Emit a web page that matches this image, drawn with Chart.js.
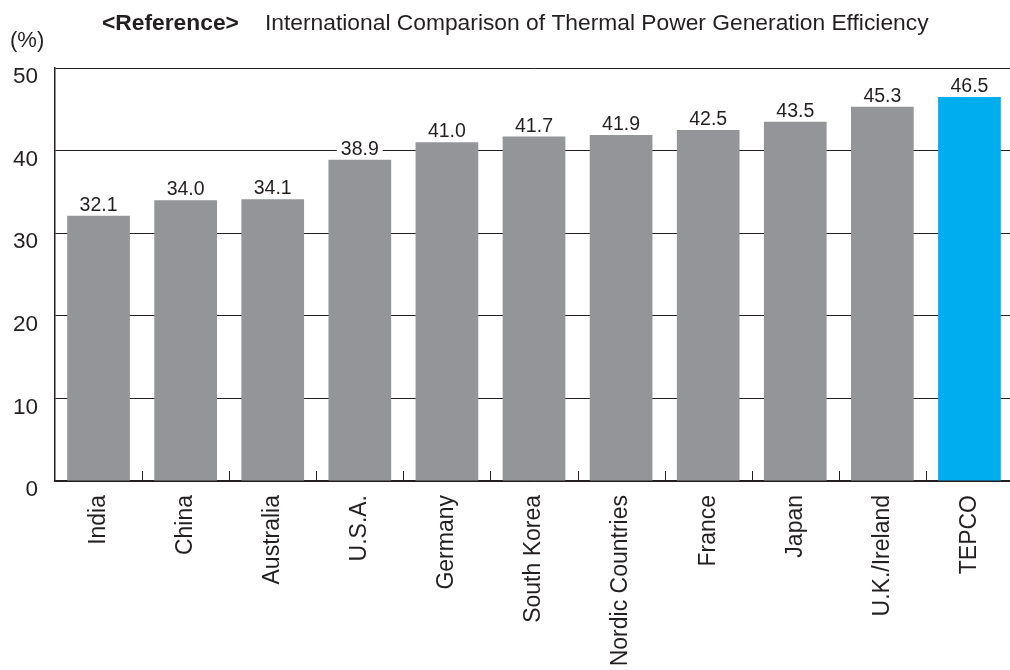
<!DOCTYPE html>
<html>
<head>
<meta charset="utf-8">
<script src="https://cdn.jsdelivr.net/npm/chart.js@4"></script>
<style>
  body { margin: 0; background: #fff; overflow: hidden; }
  #wrap { width: 1013px; height: 670px; position: relative; }
</style>
</head>
<body>
<div id="wrap"><canvas id="chart"></canvas></div>
<script>
// Datos del gráfico
const categories = ['India', 'China', 'Australia', 'U.S.A.', 'Germany', 'South Korea',
  'Nordic Countries', 'France', 'Japan', 'U.K./Ireland', 'TEPCO'];
const efficiency = [32.1, 34.0, 34.1, 38.9, 41.0, 41.7, 41.9, 42.5, 43.5, 45.3, 46.5];
const yTicks = [0, 10, 20, 30, 40, 50];
const titleTag = '<Reference>';
const titleText = 'International Comparison of Thermal Power Generation Efficiency';
const unitLabel = '(%)';

const FONT = "'Liberation Sans', Arial, Helvetica, sans-serif";
const INK = '#231f20';
const barColors = categories.map(c => c === 'TEPCO' ? '#00aeef' : '#939598');

// Título, etiquetas de valor y marcas del eje X
const extras = {
  id: 'extras',
  afterDraw(chart) {
    const ctx = chart.ctx;
    ctx.save();
    ctx.fillStyle = INK;
    ctx.textBaseline = 'alphabetic';
    ctx.textAlign = 'left';
    ctx.font = 'bold 22.8px ' + FONT;
    ctx.fillText(titleTag, 102, 30);
    ctx.font = '22.8px ' + FONT;
    ctx.fillText(titleText, 265, 30);
    ctx.font = '22px ' + FONT;
    ctx.fillText(unitLabel, 10, 47);
    ctx.restore();
  },
  afterDatasetsDraw(chart) {
    const ctx = chart.ctx;
    const meta = chart.getDatasetMeta(0);
    const xs = chart.scales.x;
    const area = chart.chartArea;
    ctx.save();
    // marcas entre categorías
    ctx.strokeStyle = INK;
    ctx.lineWidth = 1;
    for (let i = 1; i < categories.length; i++) {
      const x = Math.round((xs.getPixelForValue(i - 1) + xs.getPixelForValue(i)) / 2) + 0.5;
      ctx.beginPath();
      ctx.moveTo(x, area.bottom);
      ctx.lineTo(x, area.bottom - 10);
      ctx.stroke();
    }
    // etiquetas de valor
    ctx.font = '19.5px ' + FONT;
    ctx.textAlign = 'center';
    ctx.textBaseline = 'alphabetic';
    meta.data.forEach((bar, i) => {
      const txt = efficiency[i].toFixed(1);
      const w = ctx.measureText(txt).width;
      const base = bar.y - 5;
      ctx.fillStyle = '#fff';
      ctx.fillRect(bar.x - w / 2 - 4, base - 16, w + 8, 18);
      ctx.fillStyle = INK;
      ctx.fillText(txt, bar.x, base);
    });
    ctx.restore();
  }
};

new Chart(document.getElementById('chart'), {
  type: 'bar',
  data: {
    labels: categories,
    datasets: [{
      data: efficiency,
      backgroundColor: barColors,
      barPercentage: 0.72,
      categoryPercentage: 1
    }]
  },
  options: {
    responsive: true,
    maintainAspectRatio: false,
    animation: false,
    layout: { padding: { top: 68, right: 0, left: 0, bottom: 0 } },
    plugins: {
      legend: { display: false },
      tooltip: { enabled: false }
    },
    scales: {
      x: {
        grid: { display: false },
        border: { display: true, color: INK, width: 1.5 },
        ticks: {
          color: INK,
          font: { family: FONT, size: 23 },
          minRotation: 90,
          maxRotation: 90,
          padding: 6,
          autoSkip: false
        },
        afterFit(scale) { scale.height = 189; }
      },
      y: {
        min: 0,
        max: 50,
        afterBuildTicks(scale) { scale.ticks = yTicks.map(v => ({ value: v })); },
        grid: { color: INK, lineWidth: 1, drawTicks: false },
        border: { display: true, color: INK, width: 1.5 },
        ticks: {
          color: INK,
          font: { family: FONT, size: 22.5 },
          padding: 17,
          labelOffset: 9
        },
        afterFit(scale) { scale.width = 55; }
      }
    }
  },
  plugins: [extras]
});
</script>
</body>
</html>
